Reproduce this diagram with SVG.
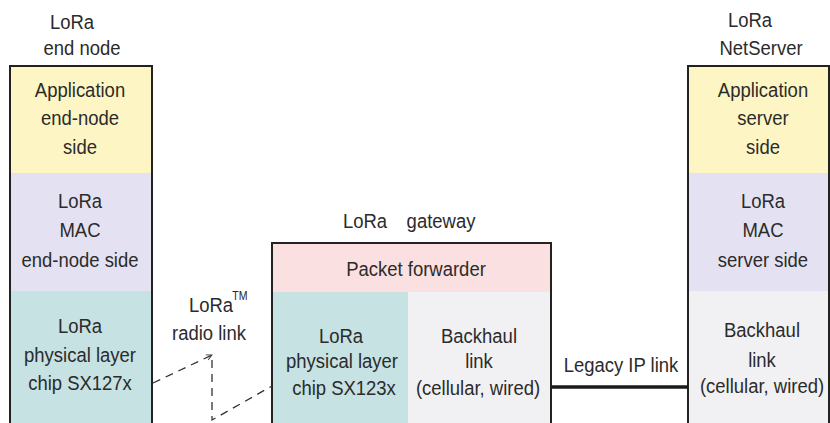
<svg xmlns="http://www.w3.org/2000/svg" width="830" height="423" viewBox="0 0 830 423">
<defs>
<style>
text{font-family:"Liberation Sans",Arial,sans-serif;font-size:21px;fill:#2b2b2b;text-anchor:middle;transform-box:fill-box;transform-origin:center;transform:scaleX(0.88)}
.tm{font-size:12px}
.box{fill:none;stroke:#222;stroke-width:2}
.dash{fill:none;stroke:#333;stroke-width:1.3;stroke-dasharray:8,6}
</style>
<marker id="ah" viewBox="0 0 10 10" refX="9" refY="5" markerWidth="7" markerHeight="7" orient="auto" markerUnits="userSpaceOnUse">
<path d="M1,1 L9,5 L1,9" fill="none" stroke="#333" stroke-width="1.3"/>
</marker>
</defs>
<rect width="830" height="423" fill="#fff"/>

<g id="endnode">
<text x="72" y="29">LoRa</text>
<text x="82" y="55">end node</text>
<rect x="10" y="66" width="142" height="107" fill="#fdf6c4"/>
<rect x="10" y="173" width="142" height="118" fill="#e4e2f2"/>
<rect x="10" y="291" width="142" height="140" fill="#c6e2e2"/>
<path class="box" d="M10,430 V66 H152 V430"/>
<text x="80" y="97">Application</text>
<text x="80" y="125">end-node</text>
<text x="80" y="154">side</text>
<text x="80" y="208">LoRa</text>
<text x="80" y="237">MAC</text>
<text x="80" y="267">end-node side</text>
<text x="80" y="333">LoRa</text>
<text x="80" y="362">physical layer</text>
<text x="80" y="390">chip SX127x</text>
</g>

<g id="gateway">
<text x="365" y="228">LoRa</text>
<text x="441" y="228">gateway</text>
<rect x="272" y="243" width="279" height="49" fill="#fbe0e1"/>
<rect x="272" y="292" width="136" height="140" fill="#c6e2e2"/>
<rect x="408" y="292" width="143" height="140" fill="#f1f1f4"/>
<path class="box" d="M272,430 V243 H551 V430"/>
<text x="416" y="276">Packet forwarder</text>
<text x="341" y="343">LoRa</text>
<text x="342" y="368">physical layer</text>
<text x="344" y="395">chip SX123x</text>
<text x="479" y="343">Backhaul</text>
<text x="479" y="368">link</text>
<text x="478" y="395">(cellular, wired)</text>
</g>

<g id="netserver">
<text x="750" y="27">LoRa</text>
<text x="761" y="55">NetServer</text>
<rect x="688" y="66" width="142" height="107" fill="#fdf6c4"/>
<rect x="688" y="173" width="142" height="118" fill="#e4e2f2"/>
<rect x="688" y="291" width="142" height="140" fill="#f1f1f4"/>
<path class="box" d="M688,430 V66 H829 V430"/>
<text x="763" y="97">Application</text>
<text x="763" y="125">server</text>
<text x="763" y="154">side</text>
<text x="763" y="208">LoRa</text>
<text x="763" y="237">MAC</text>
<text x="763" y="267">server side</text>
<text x="762" y="337">Backhaul</text>
<text x="762" y="367">link</text>
<text x="762" y="393">(cellular, wired)</text>
</g>

<g id="connectors">
<path class="dash" d="M153,383 L212,355" marker-end="url(#ah)"/>
<path class="dash" d="M212,360 V420 L272,386"/>
<line x1="551" y1="387" x2="688" y2="387" stroke="#1a1a1a" stroke-width="3.5"/>
<text x="211" y="312">LoRa</text>
<text class="tm" x="240" y="300">TM</text>
<text x="209" y="340">radio link</text>
<text x="621" y="372">Legacy IP link</text>
</g>
</svg>
